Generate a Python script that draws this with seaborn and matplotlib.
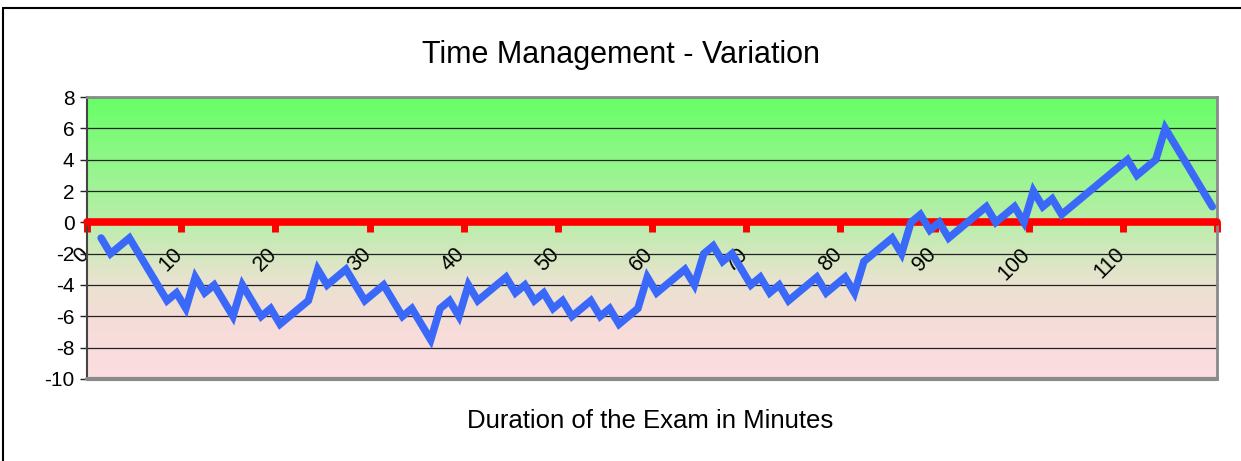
import numpy as np
import pandas as pd
import matplotlib
matplotlib.use("Agg")
import matplotlib.pyplot as plt
import seaborn as sns
from matplotlib.colors import LinearSegmentedColormap
from matplotlib.lines import Line2D
from matplotlib.transforms import ScaledTranslation

# minute (category index) of each corner of the line and its variation
minute = [1, 2, 4, 8, 9, 10, 11, 12, 13, 15, 16, 18, 19, 20, 23, 24, 25, 27, 29,
          31, 33, 34, 36, 37, 38, 39, 40, 41, 44, 45, 46, 47, 48, 49, 50, 51, 53,
          54, 55, 56, 58, 59, 60, 63, 64, 65, 66, 67, 68, 70, 71, 72, 73, 74, 77,
          78, 80, 81, 82, 85, 86, 87, 88, 89, 90, 91, 95, 96, 98, 99, 100, 101,
          102, 103, 110, 111, 113, 114, 119]
variation = [-1, -2, -1, -5, -4.5, -5.5, -3.5, -4.5, -4, -6, -4, -6, -5.5, -6.5, -5, -3, -4, -3, -5,
             -4, -6, -5.5, -7.5, -5.5, -5, -6, -4, -5, -3.5, -4.5, -4, -5, -4.5, -5.5, -5, -6, -5,
             -6, -5.5, -6.5, -5.5, -3.5, -4.5, -3, -4, -2, -1.5, -2.5, -2, -4, -3.5, -4.5, -4, -5, -3.5,
             -4.5, -3.5, -4.5, -2.5, -1, -2, 0, 0.5, -0.5, 0, -1, 1, 0,
             1, 0, 2, 1, 1.5, 0.5, 4, 3, 4, 6, 1]

x_ticks = list(range(0, 121, 10))
x_labels = [str(t) for t in range(0, 111, 10)] + [""]
y_ticks = list(range(-10, 9, 2))

df = pd.DataFrame({"minute": np.array(minute) + 0.5, "variation": variation})

sns.set_theme(style="white")
plt.rcParams["font.family"] = ["Liberation Sans", "DejaVu Sans"]
plt.rcParams["axes.unicode_minus"] = False
plt.rcParams["text.color"] = "black"

fig = plt.figure(figsize=(12.41, 4.61), dpi=100)
ax = fig.add_axes([87 / 1241, 1 - 379 / 461, 1130 / 1241, 282 / 461])

# green -> pink background of the plot area
cmap = LinearSegmentedColormap.from_list(
    "bg", [(0, "#FCDDE1"), (0.2, "#F6DCD8"), (0.35, "#E8E3CF"),
           (0.56, "#B9EEAA"), (1, "#66FF66")])
ax.imshow(np.linspace(0, 1, 200)[:, None], extent=[0, 120, -10, 8],
          aspect="auto", cmap=cmap, origin="lower", zorder=0)

sns.lineplot(data=df, x="minute", y="variation", color="#3A68F8",
             linewidth=5.4, ax=ax, zorder=3, solid_joinstyle="miter")

ax.set_xlim(0, 120)
ax.set_ylim(-10, 8)
ax.set_yticks(y_ticks)
ax.set_xticks(x_ticks)
ax.set_xticklabels(x_labels)
ax.grid(axis="y", color="#222222", linewidth=0.9)
ax.set_xlabel("")
ax.set_ylabel("")

# category axis crosses at zero, drawn in red
ax.spines["bottom"].set_position(("data", 0))
ax.spines["bottom"].set_color("red")
ax.spines["bottom"].set_linewidth(5.5)
ax.spines["bottom"].set_capstyle("round")
for side in ["top", "right"]:
    ax.spines[side].set_color("#8a8a8a")
    ax.spines[side].set_linewidth(2)
ax.spines["left"].set_color("#444444")
ax.spines["left"].set_linewidth(1.5)
ax.axhline(-10, color="#8a8a8a", linewidth=3, clip_on=False, zorder=4)

ax.tick_params(axis="x", direction="out", length=7, width=5, color="red",
               labelcolor="black", labelsize=15.5, pad=10, bottom=True)
ax.tick_params(axis="y", direction="out", length=5, width=1, color="#222222",
               labelcolor="black", labelsize=15, pad=4, left=True)
shift = ScaledTranslation(-9 / 100, 2 / 100, fig.dpi_scale_trans)
for lab in ax.get_xticklabels():
    lab.set_rotation(45)
    lab.set_ha("right")
    lab.set_va("top")
    lab.set_rotation_mode("anchor")
    lab.set_transform(lab.get_transform() + shift)

fig.text(621.5 / 1241, 1 - 63 / 461, "Time Management - Variation",
         fontsize=22, ha="center", va="baseline", color="black")
fig.text(650.5 / 1241, 1 - 428 / 461, "Duration of the Exam in Minutes",
         fontsize=18.5, ha="center", va="baseline", color="black")

# chart area border
fig.add_artist(Line2D([3 / 1241, 3 / 1241], [0, 1 - 8 / 461], color="black", linewidth=1.5))
fig.add_artist(Line2D([3 / 1241, 1], [1 - 8 / 461, 1 - 8 / 461], color="black", linewidth=1.5))

fig.savefig("out.png", dpi=100)
